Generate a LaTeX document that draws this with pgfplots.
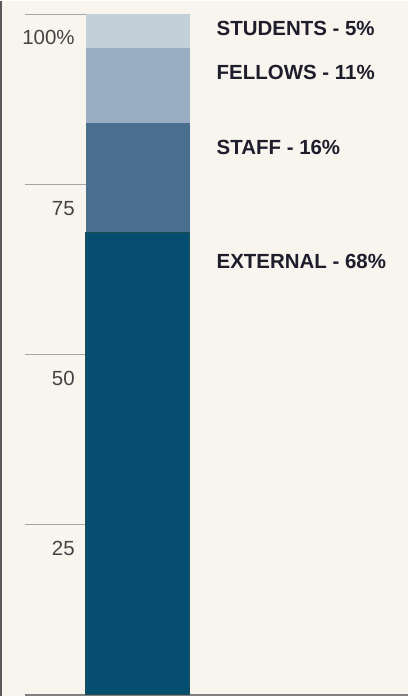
\documentclass[border=0pt]{standalone}
\usepackage{pgfplots}
\pgfplotsset{compat=1.18}
\usepackage{fontspec}
\setmainfont{Liberation Sans}
\definecolor{bg}{HTML}{F8F5EF}
\definecolor{cStudents}{HTML}{C3CFD9}
\definecolor{cFellows}{HTML}{99AEC3}
\definecolor{cStaff}{HTML}{4A6F8E}
\definecolor{cExternal}{HTML}{064E70}
\definecolor{cEdge}{HTML}{1C4E56}
\definecolor{txt}{HTML}{1E1D2B}
\definecolor{ticktxt}{HTML}{444444}
\newcommand{\tickfont}{\fontsize{20.5}{24}\selectfont}
\newcommand{\labfont}{\fontsize{20.5}{24}\selectfont\bfseries}
\tikzset{
  ticklab/.style={font=\tickfont, text=ticktxt, inner sep=0pt, anchor=base east},
  catlab/.style={font=\labfont, text=txt, inner sep=0pt, anchor=base west},
}
\begin{document}
\begin{tikzpicture}
\begin{axis}[
  scale only axis,
  width=409pt, height=697pt,
  xmin=0, xmax=409,
  ymin=-0.19, ymax=101.98,
  axis lines=none,
  xtick=\empty, ytick=\empty,
  clip=false,
  ybar stacked,
  bar width=104,
  axis background/.style={fill=bg},
]
\addplot[fill=cExternal, draw=cEdge, line width=1pt] coordinates {(138,68)};
\addplot[fill=cStaff, draw=none] coordinates {(138,16)};
\addplot[fill=cFellows, draw=none] coordinates {(138,11)};
\addplot[fill=cStudents, draw=none] coordinates {(138,5)};
\draw[color=black!35, line width=1pt] (axis cs:25,100) -- (axis cs:86,100);
\draw[color=black!35, line width=1pt] (axis cs:25,75) -- (axis cs:86,75);
\draw[color=black!35, line width=1pt] (axis cs:25,50) -- (axis cs:86,50);
\draw[color=black!35, line width=1pt] (axis cs:25,25) -- (axis cs:86,25);
\draw[color=black!50, line width=1.4pt] (axis cs:25,0) -- (axis cs:409,0);
\draw[color=black!65, line width=1.6pt] (axis cs:1,-0.19) -- (axis cs:1,101.98);
\node[ticklab] at (axis cs:75,95.6) {100\%};
\node[ticklab] at (axis cs:75,70.5) {75};
\node[ticklab] at (axis cs:75,45.5) {50};
\node[ticklab] at (axis cs:75,20.5) {25};
\node[catlab] at (axis cs:217,96.85) {STUDENTS - 5\%};
\node[catlab] at (axis cs:217,90.4) {FELLOWS - 11\%};
\node[catlab] at (axis cs:217,79.4) {STAFF - 16\%};
\node[catlab] at (axis cs:217,62.7) {EXTERNAL - 68\%};
\end{axis}
\end{tikzpicture}
\end{document}
